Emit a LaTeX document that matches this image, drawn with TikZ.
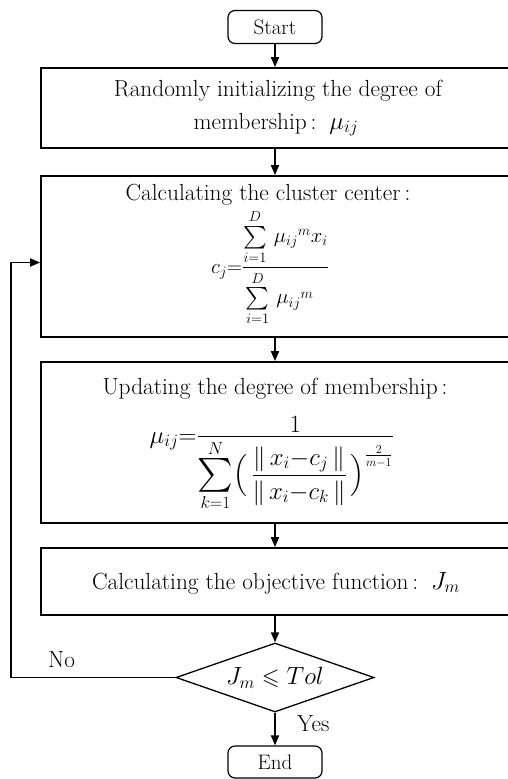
\documentclass[tikz,border=0pt]{standalone}
\usepackage{amsmath,amssymb,graphicx}
\usetikzlibrary{shapes.geometric,arrows.meta,calc}
\newcommand{\Lsum}{\mathop{\vcenter{\hbox{\scalebox{1.45}{$\textstyle\sum$}}}}}
\begin{document}
\begin{tikzpicture}[x=1pt,y=-1pt,
  every node/.style={font=\fontsize{23.3}{28}\selectfont},
  procbox/.style={draw,line width=1.8pt,minimum width=468pt,inner sep=0pt},
  txt/.style={anchor=base,inner sep=0pt},
  mathtxt/.style={anchor=base,inner sep=0pt,font=\fontsize{22.5}{27}\selectfont},
  termbox/.style={draw,line width=1.2pt,rounded corners=7pt,minimum width=94pt,minimum height=33pt,inner sep=0pt,font=\fontsize{21}{25}\selectfont},
  decbox/.style={draw,line width=1.3pt,diamond,aspect=2.87,minimum width=198pt,minimum height=69pt,inner sep=0pt},
  arr/.style={line width=1.8pt,-{Triangle[length=10pt,width=8pt]}},
  lbl/.style={inner sep=0pt}]
\useasboundingbox (0,0) rectangle (507,779);

\node[termbox] (start) at (275,27) {Start};

\node[procbox,minimum height=80pt] (b1) at (275,108) {};
\node[txt] (t1a) at (278,96) {Randomly initializing the degree of};
\node[txt] (t1b) at (276,129) {membership\,{:}\;\;$\mu_{ij}$};

\node[procbox,minimum height=161pt] (b2) at (275,256.5) {};
\node[txt] (t2) at (268,200) {Calculating the cluster center\,{:}};
\node[mathtxt] (f2) at (270,273)
  {$c_j{=}\dfrac{\sum\limits_{i=1}^{D}\,\mu_{ij}{}^{m}x_i}{\sum\limits_{i=1}^{D}\,\mu_{ij}{}^{m}\;\;}$};

\node[procbox,minimum height=161pt] (b3) at (275,442.5) {};
\node[txt] (t3) at (275,394) {Updating the degree of membership\,{:}};
\node[mathtxt,font=\fontsize{23.3}{28}\selectfont] (f3) at (272,443)
  {$\mu_{ij}{=}\dfrac{\raisebox{-6pt}{$1$}}{\Lsum\limits_{k=1}^{N}\Bigl(\,\dfrac{\|\,x_i{-}c_j\,\|}{\|\,x_i{-}c_k\,\|}\,\Bigr)^{\frac{2}{m-1}}}$};

\node[procbox,minimum height=67pt] (b4) at (275,581.5) {};
\node[txt] (t4) at (276,589) {Calculating the objective function\,{:}\;\;$J_m$};

\node[decbox] (dec) at (275,677.5) {\fontsize{23}{27}\selectfont$J_{m}\leqslant Tol$};
\node[termbox,minimum height=32pt] (end) at (275,762) {End};

\coordinate (loop) at (11,677.5);

\draw[arr] (start) -- (b1);
\draw[arr] (b1) -- (b2);
\draw[arr] (b2) -- (b3);
\draw[arr] (b3) -- (b4);
\draw[arr] (b4) -- (dec);
\draw[arr] (dec) -- (end);
\draw[arr] (dec.west) -- (loop) |- ($(b2.west)+(0,6)$);

\node[lbl,anchor=base west] (no) at (48,667) {No};
\node[lbl,anchor=base west] (yes) at (297,731) {Yes};
\end{tikzpicture}
\end{document}
